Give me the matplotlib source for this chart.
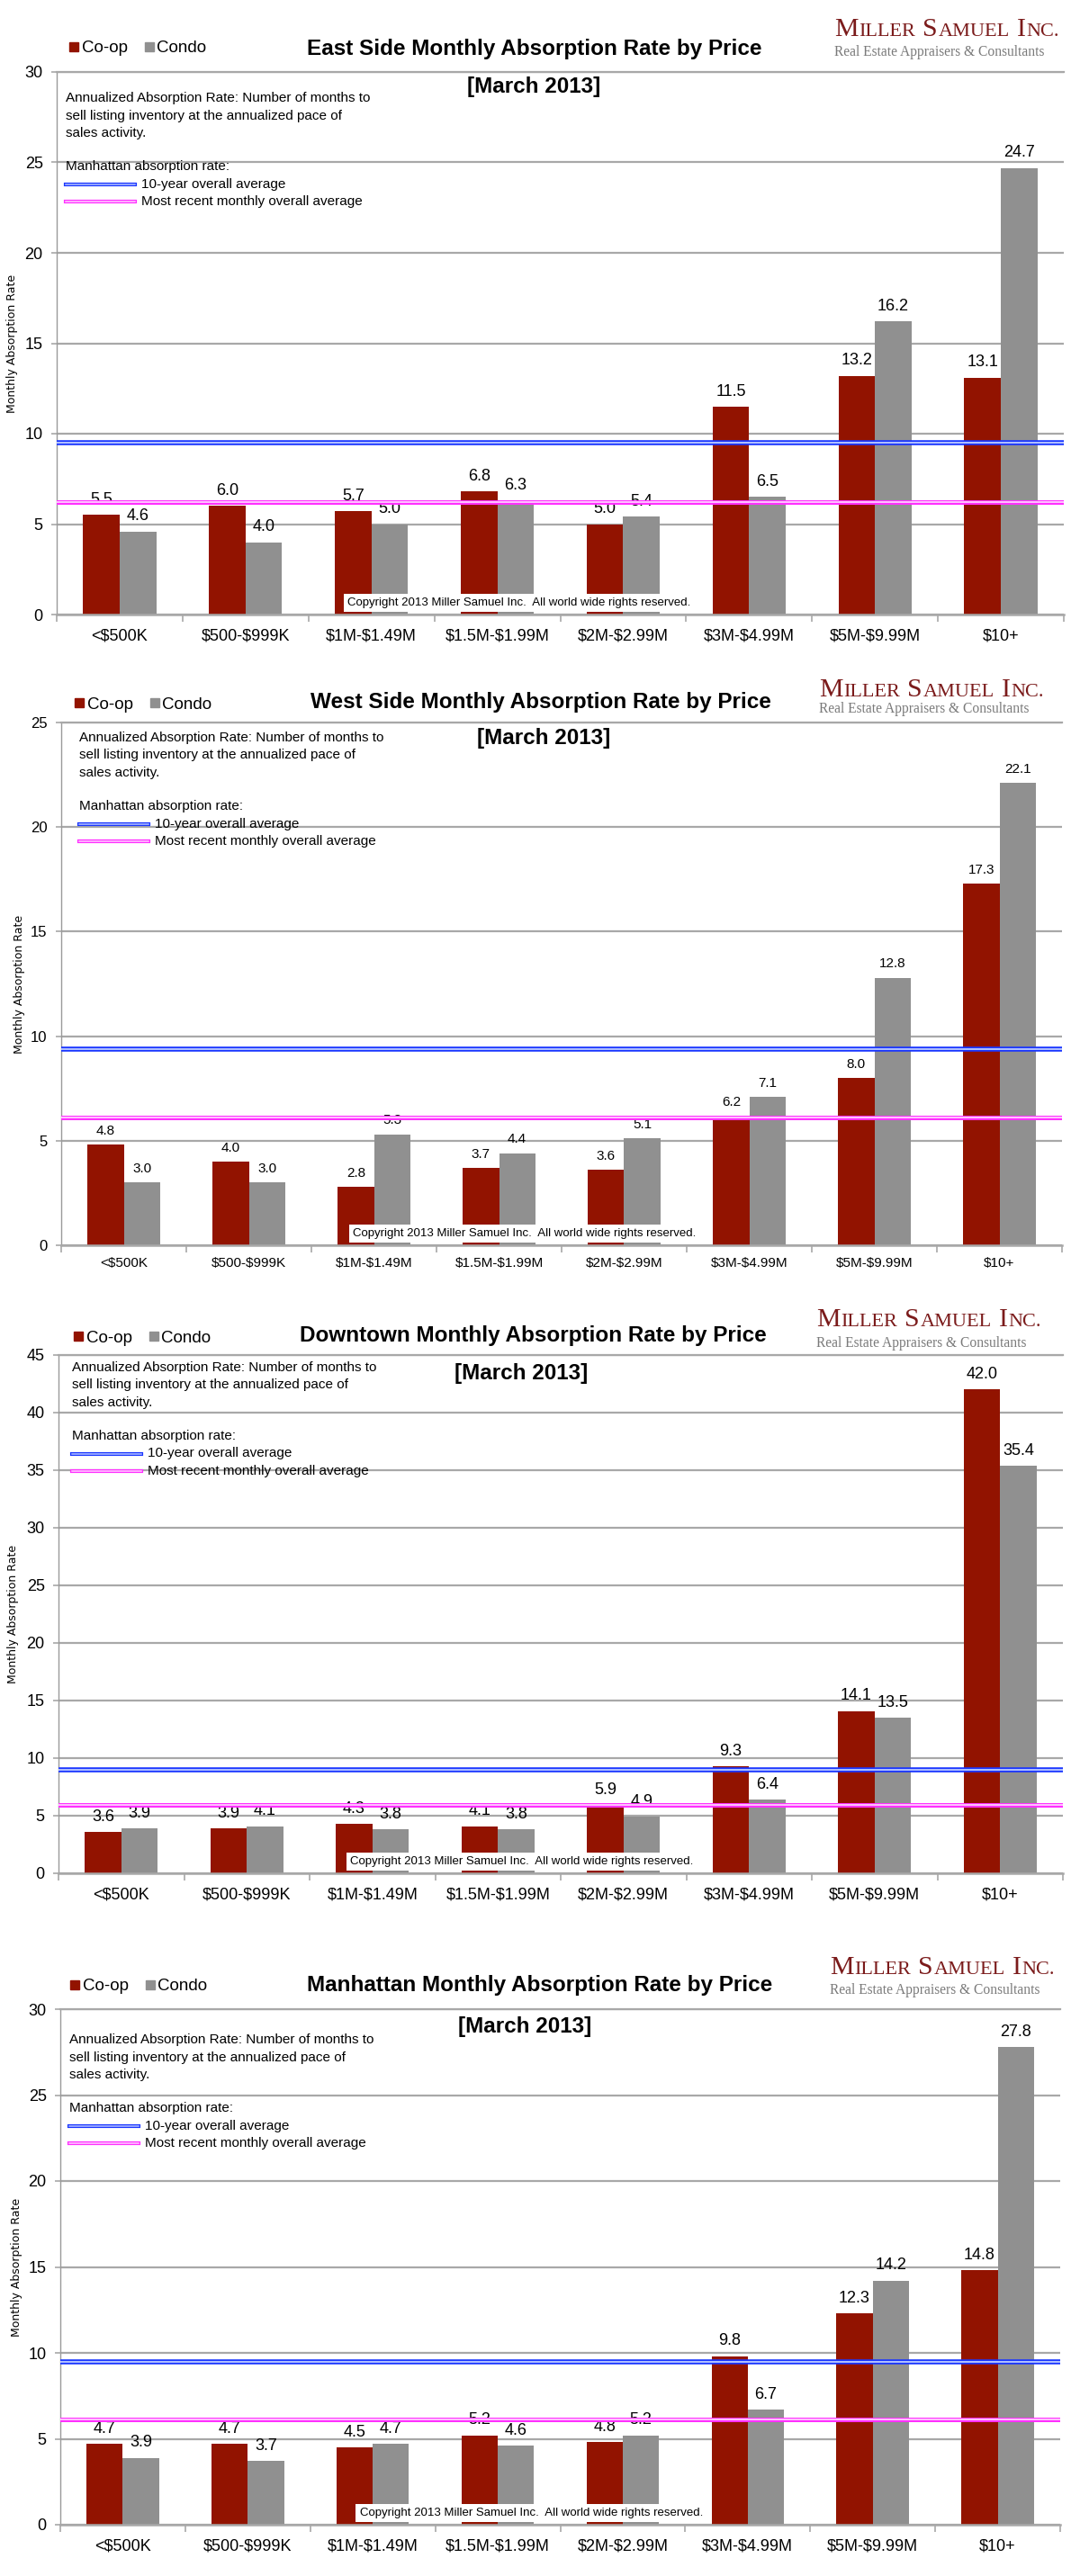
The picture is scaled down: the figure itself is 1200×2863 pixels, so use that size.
import numpy as np
import matplotlib
matplotlib.use("Agg")
import matplotlib.pyplot as plt
from matplotlib.patches import Rectangle
from matplotlib.lines import Line2D
from matplotlib.offsetbox import TextArea, HPacker, AnnotationBbox

plt.rcParams['font.family'] = ['Liberation Sans', 'DejaVu Sans']
plt.rcParams['text.parse_math'] = False

W, H = 1200, 2863

categories = ['<$500K', '$500-$999K', '$1M-$1.49M', '$1.5M-$1.99M',
              '$2M-$2.99M', '$3M-$4.99M', '$5M-$9.99M', '$10+']

titles = ['East Side Monthly Absorption Rate by Price',
          'West Side Monthly Absorption Rate by Price',
          'Downtown Monthly Absorption Rate by Price',
          'Manhattan Monthly Absorption Rate by Price']

east_coop = [5.5, 6.0, 5.7, 6.8, 5.0, 11.5, 13.2, 13.1]
east_condo = [4.6, 4.0, 5.0, 6.3, 5.4, 6.5, 16.2, 24.7]
west_coop = [4.8, 4.0, 2.8, 3.7, 3.6, 6.2, 8.0, 17.3]
west_condo = [3.0, 3.0, 5.3, 4.4, 5.1, 7.1, 12.8, 22.1]
down_coop = [3.6, 3.9, 4.3, 4.1, 5.9, 9.3, 14.1, 42.0]
down_condo = [3.9, 4.1, 3.8, 3.8, 4.9, 6.4, 13.5, 35.4]
manh_coop = [4.7, 4.7, 4.5, 5.2, 4.8, 9.8, 12.3, 14.8]
manh_condo = [3.9, 3.7, 4.7, 4.6, 5.2, 6.7, 14.2, 27.8]

y_max = [30, 25, 45, 30]
ten_year_avg = [9.5, 9.4, 9.0, 9.5]
recent_avg = [6.2, 6.1, 5.9, 6.15]

note_lines = ['Annualized Absorption Rate: Number of months to',
              'sell listing inventory at the annualized pace of',
              'sales activity.']
copyright_txt = 'Copyright 2013 Miller Samuel Inc.  All world wide rights reserved.'

COOP = '#921300'
CONDO = '#909090'
GRID = '#a8a8a8'
LOGO_RED = '#7b1b1b'
BLUE, BLUE_IN = '#1a36ff', '#b4c2ff'
PINK, PINK_IN = '#ff30ff', '#ffd0ff'

# pixel layout of each panel (left, right, top, bottom) and its furniture
layout = [
    dict(box=(63, 1182, 80, 683), title=(594, 54), leg=(77, 54), logo=(927, 33, 58),
         march=(593, 96), note=(73, 109), manh=(73, 185), ylab=14, cr=0.459, fs=13, pad=11.5),
    dict(box=(68, 1180, 803, 1384), title=(601, 780), leg=(83, 783), logo=(910, 767, 788),
         march=(604, 820), note=(88, 820), manh=(88, 896), ylab=22, cr=0.463, fs=11, pad=9.5),
    dict(box=(65, 1181, 1506, 2082), title=(592, 1485), leg=(82, 1487), logo=(907, 1467, 1493),
         march=(579, 1526), note=(80, 1520), manh=(80, 1596), ylab=15, cr=0.461, fs=13, pad=11.5),
    dict(box=(67, 1178, 2233, 2806), title=(600, 2207), leg=(78, 2208), logo=(922, 2187, 2212),
         march=(583, 2252), note=(77, 2267), manh=(77, 2343), ylab=19, cr=0.471, fs=13, pad=11.5),
]

fig = plt.figure(figsize=(W / 100, H / 100), dpi=100)


def fx(x):
    return x / W


def fy(y):
    return 1 - y / H


def double_line(x0, x1, y, outer, inner):
    fig.add_artist(Line2D([fx(x0), fx(x1)], [fy(y), fy(y)], color=outer, lw=3.0,
                          transform=fig.transFigure))
    fig.add_artist(Line2D([fx(x0), fx(x1)], [fy(y), fy(y)], color=inner, lw=1.1,
                          transform=fig.transFigure))


def logo(x, y1, y2):
    big = dict(fontsize=21.5, family='Liberation Serif', color=LOGO_RED)
    small = dict(fontsize=16, family='Liberation Serif', color=LOGO_RED)
    words = []
    for a, b in [('M', 'ILLER'), ('S', 'AMUEL'), ('I', 'NC.')]:
        words.append(HPacker(children=[TextArea(a, textprops=big), TextArea(b, textprops=small)],
                             align='baseline', pad=0, sep=0.5))
    row = HPacker(children=words, align='baseline', pad=0, sep=6)
    ab = AnnotationBbox(row, (fx(x), fy(y1)), xycoords='figure fraction',
                        box_alignment=(0, 0.5), frameon=False, pad=0)
    fig.add_artist(ab)
    fig.text(fx(x), fy(y2), 'Real Estate Appraisers & Consultants', family='Liberation Serif',
             fontsize=11.2, color='#7a7a7a', va='center', ha='left')


def panel(i, coop, condo):
    L = layout[i]
    left, right, top, bottom = L['box']
    ax = fig.add_axes([fx(left), fy(bottom), (right - left) / W, (bottom - top) / H])
    x = np.arange(len(categories))
    w = 0.29
    ax.bar(x - w / 2, coop, w, color=COOP, zorder=2)
    ax.bar(x + w / 2, condo, w, color=CONDO, zorder=2)
    fs = L['fs']
    for xs, vals in [(x - w / 2, coop), (x + w / 2, condo)]:
        for xi, v in zip(xs, vals):
            ax.annotate(f'{v:.1f}', (xi, v), xytext=(0, 6), textcoords='offset points',
                        ha='center', va='bottom', fontsize=fs, zorder=3)

    ax.set_xlim(-0.5, len(categories) - 0.5)
    ax.set_ylim(0, y_max[i])
    ax.set_yticks(np.arange(0, y_max[i] + 1, 5))
    ax.set_xticks(x)
    ax.set_xticklabels(categories)
    ax.set_xticks(np.arange(-0.5, len(categories)), minor=True)
    ax.tick_params(axis='x', which='major', length=0, labelsize=fs, pad=L['pad'])
    ax.tick_params(axis='x', which='minor', length=6, color=GRID, width=1.2)
    ax.tick_params(axis='y', length=4, color=GRID, width=1.2, labelsize=fs if i != 1 else 12, pad=7)
    ax.yaxis.grid(True, color=GRID, lw=1.6)
    ax.set_axisbelow(True)
    ax.spines['right'].set_visible(False)
    ax.spines['top'].set_color(GRID)
    ax.spines['top'].set_linewidth(1.6)
    ax.spines['bottom'].set_color(GRID)
    ax.spines['bottom'].set_linewidth(1.8)
    ax.spines['left'].set_color('#9a9a9a')
    ax.spines['left'].set_linewidth(1.0)

    # Manhattan averages
    ax.axhline(ten_year_avg[i], color=BLUE, lw=4.0, zorder=5)
    ax.axhline(ten_year_avg[i], color=BLUE_IN, lw=1.4, zorder=6)
    ax.axhline(recent_avg[i], color=PINK, lw=3.6, zorder=5)
    ax.axhline(recent_avg[i], color=PINK_IN, lw=1.3, zorder=6)

    ax.annotate(copyright_txt, xy=(L['cr'], 0), xycoords='axes fraction', xytext=(0, 9.5),
                textcoords='offset points', ha='center', va='center', fontsize=9.5, zorder=4,
                bbox=dict(fc='white', ec='none', pad=3))

    fig.text(fx(L['ylab']), fy((top + bottom) / 2), 'Monthly Absorption Rate', rotation=90,
             family='DejaVu Sans', fontsize=9, ha='center', va='center')

    # header
    tx, ty = L['title']
    fig.text(fx(tx), fy(ty), titles[i], fontsize=17.5, fontweight='bold', ha='center', va='center')
    mx, my = L['march']
    fig.text(fx(mx), fy(my), '[March 2013]', fontsize=17.5, fontweight='bold', ha='center', va='center')
    lx, ly = L['leg']
    fig.add_artist(Rectangle((fx(lx), fy(ly + 3)), 10 / W, 10 / H, color=COOP,
                             transform=fig.transFigure))
    fig.text(fx(lx + 14), fy(ly), 'Co-op', fontsize=13.5, va='center')
    fig.add_artist(Rectangle((fx(lx + 84), fy(ly + 3)), 10 / W, 10 / H, color=CONDO,
                             transform=fig.transFigure))
    fig.text(fx(lx + 97), fy(ly), 'Condo', fontsize=13.5, va='center')
    logo(*L['logo'])

    nx, ny = L['note']
    for k, line in enumerate(note_lines):
        fig.text(fx(nx), fy(ny + 19.5 * k), line, fontsize=11, va='center')
    hx, hy = L['manh']
    fig.text(fx(hx), fy(hy), 'Manhattan absorption rate:', fontsize=11, va='center')
    double_line(hx, hx + 77, hy + 19.5, BLUE, BLUE_IN)
    fig.text(fx(hx + 84), fy(hy + 19.5), '10-year overall average', fontsize=11, va='center')
    double_line(hx, hx + 77, hy + 39, PINK, PINK_IN)
    fig.text(fx(hx + 84), fy(hy + 39), 'Most recent monthly overall average', fontsize=11, va='center')


panel(0, east_coop, east_condo)
panel(1, west_coop, west_condo)
panel(2, down_coop, down_condo)
panel(3, manh_coop, manh_condo)

fig.savefig('out.png', dpi=100, facecolor='white')
